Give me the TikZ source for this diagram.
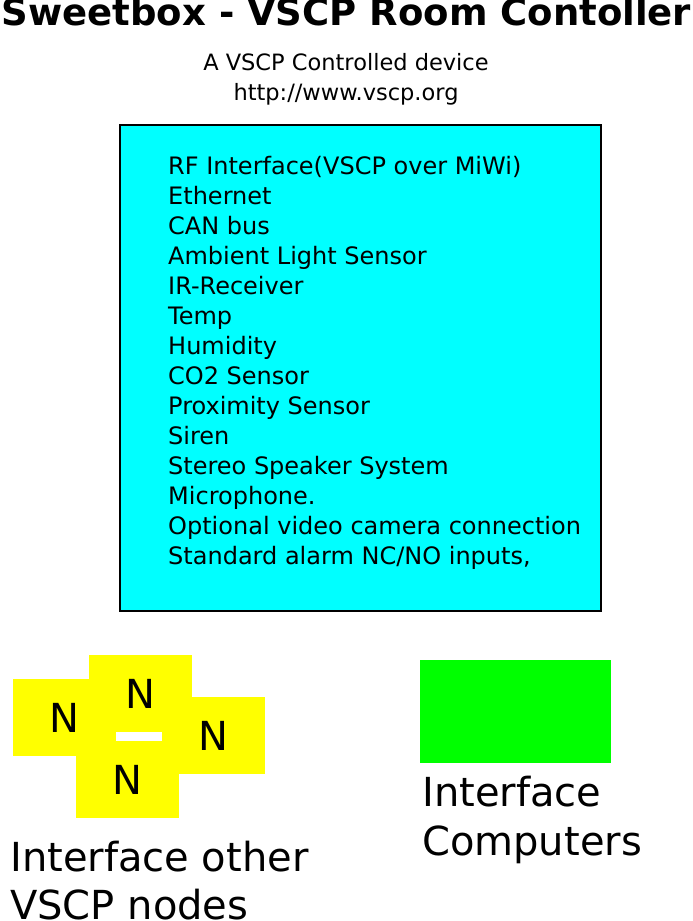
\documentclass[tikz,border=0pt]{standalone}
\usepackage{fontspec}
\setmainfont{DejaVu Sans}
\definecolor{boxcyan}{RGB}{0,255,255}
\definecolor{nodeyellow}{RGB}{255,255,0}
\definecolor{pcgreen}{RGB}{0,255,0}
\begin{document}
\begin{tikzpicture}[x=1pt,y=-1pt,
title_style/.style={anchor=base,inner sep=0pt,font=\fontsize{37}{40}\selectfont\bfseries},
sub_style/.style={anchor=base,inner sep=0pt,font=\fontsize{22.5}{30}\selectfont},
item_style/.style={anchor=base west,inner sep=0pt,font=\fontsize{24}{30}\selectfont},
block_style/.style={rectangle,fill=nodeyellow,inner sep=0pt,minimum width=103pt,minimum height=77pt,font=\fontsize{40}{44}\selectfont},
label_style/.style={anchor=base west,inner sep=0pt,font=\fontsize{40}{50}\selectfont}]
\useasboundingbox (0,0) rectangle (693,921);

\node[title_style] (title) at (346.5,25) {Sweetbox - VSCP Room Contoller};
\node[sub_style] (sub1) at (346,70) {A VSCP Controlled device};
\node[sub_style] (sub2) at (346,100) {http://www.vscp.org};

\node[draw=black,line width=2pt,fill=boxcyan,inner sep=0pt,anchor=north west,minimum width=481pt,minimum height=486pt] (device) at (119,124) {};

\node[item_style] (i1) at (168,174) {RF Interface(VSCP over MiWi)};
\node[item_style] (i2) at (168,204) {Ethernet};
\node[item_style] (i3) at (168,234) {CAN bus};
\node[item_style] (i4) at (168,264) {Ambient Light Sensor};
\node[item_style] (i5) at (168,294) {IR-Receiver};
\node[item_style] (i6) at (168,324) {Temp};
\node[item_style] (i7) at (168,354) {Humidity};
\node[item_style] (i8) at (168,384) {CO2 Sensor};
\node[item_style] (i9) at (168,414) {Proximity Sensor};
\node[item_style] (i10) at (168,444) {Siren};
\node[item_style] (i11) at (168,474) {Stereo Speaker System};
\node[item_style] (i12) at (168,504) {Microphone.};
\node[item_style] (i13) at (168,534) {Optional video camera connection};
\node[item_style] (i14) at (168,564) {Standard alarm NC/NO inputs,};

\node[block_style] (n1) at (64.5,717.5) {N};
\node[block_style] (n2) at (140.5,693.5) {N};
\node[block_style] (n3) at (213.5,735.5) {N};
\node[block_style] (n4) at (127.5,779.5) {N};

\node[fill=pcgreen,inner sep=0pt,anchor=north west,minimum width=191pt,minimum height=103pt] (pc) at (420,660) {};

\node[label_style] (nodes1) at (10,871) {Interface other};
\node[label_style] (nodes2) at (10,919) {VSCP nodes};
\node[label_style] (pc1) at (422,806) {Interface};
\node[label_style] (pc2) at (422,855) {Computers};
\end{tikzpicture}
\end{document}
